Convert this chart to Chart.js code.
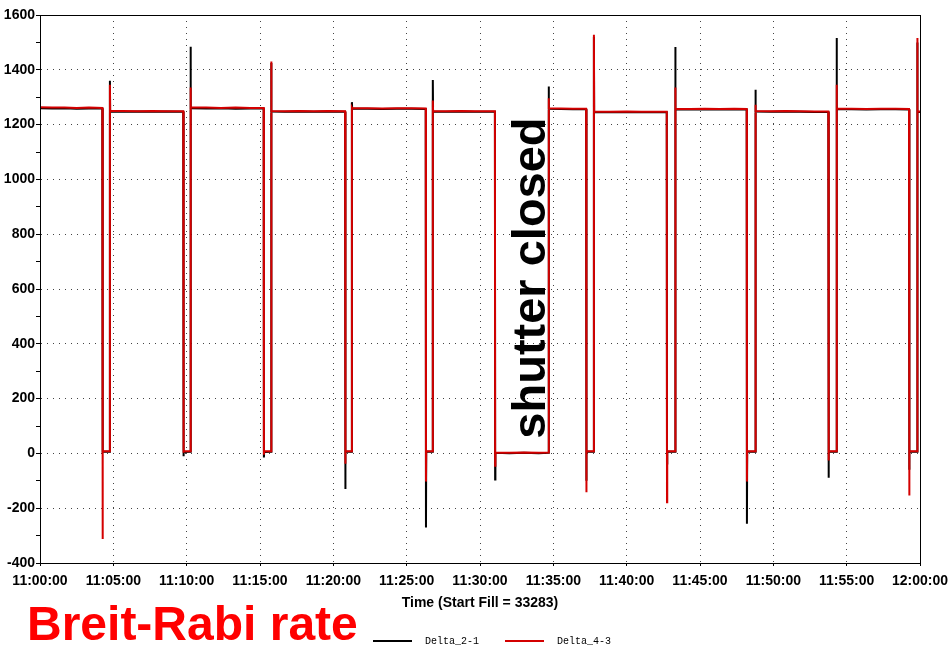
<!DOCTYPE html>
<html>
<head>
<meta charset="utf-8">
<title>Breit-Rabi rate</title>
<script src="https://cdn.jsdelivr.net/npm/chart.js@4.4.1/dist/chart.umd.min.js"></script>
<style>
  html, body { margin: 0; padding: 0; background: #fff; }
  #wrap { width: 949px; height: 649px; }
</style>
</head>
<body>
<div id="wrap"><canvas id="myChart"></canvas></div>
<script>
/** data: seconds after 11:00:00 */

let times = [
  0, 50, 100, 150, 200, 255,
  256, 257, 285, 286, 287,
  340, 400, 460, 520, 586,
  587, 588, 615, 616, 617,
  680, 740, 800, 860, 915,
  916, 917, 945, 946, 947,
  1000, 1060, 1120, 1180, 1248,
  1249, 1250, 1275, 1276, 1277,
  1340, 1400, 1460, 1520, 1578,
  1579, 1580, 1606, 1607, 1608,
  1660, 1720, 1780, 1861,
  1862, 1863, 1920, 1980, 2040, 2080, 2081, 2082,
  2130, 2180, 2234,
  2235, 2236, 2265, 2266, 2267,
  2330, 2400, 2460, 2564,
  2565, 2566, 2598, 2599, 2600,
  2660, 2720, 2780, 2840, 2891,
  2892, 2893, 2926, 2927, 2928,
  2990, 3050, 3110, 3170, 3225,
  3226, 3227, 3258, 3259, 3260,
  3320, 3380, 3440, 3500, 3555,
  3556, 3557, 3588, 3589, 3590,
  3600
];

let delta21 = [
  1260, 1259, 1260, 1258, 1259, 1259,
  5, 6, 6, 1360, 1248,
  1247, 1248, 1247, 1248, 1247,
  -10, 5, 6, 1484, 1260,
  1259, 1260, 1258, 1259, 1259,
  -15, 5, 6, 1425, 1248,
  1247, 1248, 1247, 1248, 1247,
  -130, 6, 6, 1282, 1258,
  1258, 1257, 1258, 1258, 1257,
  -270, 6, 6, 1363, 1248,
  1247, 1248, 1247, 1247,
  -95, 2, 1, 2, 1, 2, 1339, 1258,
  1257, 1256, 1256,
  -100, 6, 6, 1520, 1246,
  1245, 1246, 1245, 1245,
  -37, 6, 6, 1483, 1256,
  1255, 1256, 1255, 1256, 1255,
  -257, 6, 6, 1327, 1248,
  1247, 1248, 1247, 1246, 1246,
  -89, 6, 6, 1516, 1256,
  1256, 1255, 1256, 1256, 1255,
  -60, 6, 6, 1500, 1246,
  1246
];

let delta43 = [
  1263, 1262, 1262, 1261, 1262, 1261,
  -312, 8, 8, 1345, 1250,
  1250, 1249, 1250, 1249, 1249,
  2, 8, 8, 1335, 1262,
  1262, 1261, 1262, 1261, 1261,
  -5, 8, 8, 1430, 1250,
  1249, 1250, 1249, 1250, 1249,
  -38, 8, 8, 1262, 1260,
  1260, 1259, 1260, 1260, 1259,
  -103, 8, 8, 1288, 1250,
  1249, 1250, 1249, 1249,
  -45, 3, 2, 3, 2, 3, 1296, 1260,
  1259, 1258, 1258,
  -142, 8, 8, 1528, 1248,
  1247, 1248, 1247, 1247,
  -178, 8, 8, 1335, 1258,
  1257, 1258, 1257, 1258, 1257,
  -103, 8, 8, 1272, 1250,
  1249, 1250, 1249, 1248, 1248,
  -26, 8, 8, 1345, 1258,
  1258, 1257, 1258, 1258, 1257,
  -154, 8, 8, 1516, 1248,
  1248
];

let seriesNames = ["Delta_2-1", "Delta_4-3"];
let seriesColors = ["#000000", "#d40000"];
let yTicks = [-400, -200, 0, 200, 400, 600, 800, 1000, 1200, 1400, 1600];
let xTickStep = 300;

function toPoints(vals) {
  return times.map((t, i) => ({ x: t, y: vals[i] }));
}

function timeLabel(sec) {
  let h = 11 + Math.floor(sec / 3600);
  let m = Math.floor((sec % 3600) / 60);
  let s = sec % 60;
  return h + ":" + String(m).padStart(2, "0") + ":" + String(s).padStart(2, "0");
}

/** extra drawing: frame, axis title, legend, notes */
const extras = {
  id: "extras",
  afterDatasetsDraw(chart) {
    const ctx = chart.ctx;
    const a = chart.chartArea;
    const xs = chart.scales.x;
    const ys = chart.scales.y;
    ctx.save();

    // frame
    ctx.strokeStyle = "#000";
    ctx.lineWidth = 1;
    ctx.strokeRect(Math.round(a.left) + 0.5, Math.round(a.top) + 0.5,
      Math.round(a.right - a.left), Math.round(a.bottom - a.top));

    // shutter note
    ctx.fillStyle = "#000";
    ctx.font = "bold 47px 'Liberation Sans', Arial, sans-serif";
    ctx.textAlign = "center";
    ctx.textBaseline = "alphabetic";
    ctx.translate(xs.getPixelForValue(1940) + 31, ys.getPixelForValue(640));
    ctx.rotate(-Math.PI / 2);
    ctx.fillText("shutter closed", 0, 0);
    ctx.restore();

    ctx.save();
    // axis title
    ctx.fillStyle = "#000";
    ctx.font = "bold 14px 'Liberation Sans', Arial, sans-serif";
    ctx.textAlign = "center";
    ctx.textBaseline = "middle";
    ctx.fillText("Time (Start Fill = 33283)", (a.left + a.right) / 2, 603);

    // legend
    const lx = [373, 505];
    ctx.font = "10px 'Liberation Mono', 'Courier New', monospace";
    ctx.textAlign = "left";
    seriesNames.forEach((name, i) => {
      ctx.strokeStyle = seriesColors[i];
      ctx.lineWidth = 2;
      ctx.beginPath();
      ctx.moveTo(lx[i], 641);
      ctx.lineTo(lx[i] + 39, 641);
      ctx.stroke();
      ctx.fillStyle = "#000";
      ctx.fillText(name, lx[i] + 52, 641);
    });

    // big red label
    ctx.fillStyle = "#ff0000";
    ctx.font = "bold 48px 'Liberation Sans', Arial, sans-serif";
    ctx.textBaseline = "alphabetic";
    ctx.fillText("Breit-Rabi rate", 27, 640);
    ctx.restore();
  },
};

const canvas = document.getElementById("myChart");

let chart = new Chart(canvas, {
  type: "line",
  data: {
    datasets: [
      {
        label: seriesNames[0],
        data: toPoints(delta21),
        borderColor: seriesColors[0],
        backgroundColor: seriesColors[0],
        borderWidth: 2,
        pointRadius: 0,
        tension: 0,
        order: 1,
      },
      {
        label: seriesNames[1],
        data: toPoints(delta43),
        borderColor: seriesColors[1],
        backgroundColor: seriesColors[1],
        borderWidth: 2,
        pointRadius: 0,
        tension: 0,
        order: 0,
      },
    ],
  },
  options: {
    responsive: true,
    maintainAspectRatio: false,
    animation: false,
    layout: { padding: { left: 0, right: 29, top: 15, bottom: 0 } },
    plugins: {
      legend: { display: false },
      tooltip: { enabled: false },
    },
    scales: {
      x: {
        type: "linear",
        min: 0,
        max: 3600,
        afterFit: (s) => {
          s.height = 86;
          s.paddingLeft = 0;
          s.paddingRight = 0;
        },
        ticks: {
          stepSize: xTickStep,
          color: "#000",
          padding: 7,
          maxRotation: 0,
          font: { family: "'Liberation Sans', Arial, sans-serif", size: 14, weight: "bold" },
          callback: (v) => timeLabel(v),
        },
        grid: {
          color: "#444",
          lineWidth: 1,
          tickColor: "#000",
          tickLength: 3,
          tickBorderDash: [],
          drawOnChartArea: true,
        },
        border: { display: true, color: "#000", width: 1, dash: [1, 5] },
      },
      y: {
        min: -400,
        max: 1600,
        afterFit: (s) => { s.width = 40; },
        ticks: {
          stepSize: 100,
          color: "#000",
          padding: 1,
          font: { family: "'Liberation Sans', Arial, sans-serif", size: 14, weight: "bold" },
          callback: (v) => (yTicks.includes(v) ? String(v) : ""),
        },
        grid: {
          color: (c) => (c.tick && yTicks.includes(c.tick.value) ? "#444" : "rgba(0,0,0,0)"),
          lineWidth: 1,
          tickColor: "#000",
          tickLength: 4,
          tickBorderDash: [],
        },
        border: { display: true, color: "#000", width: 1, dash: [1, 5] },
      },
    },
  },
  plugins: [extras],
});
</script>
</body>
</html>
